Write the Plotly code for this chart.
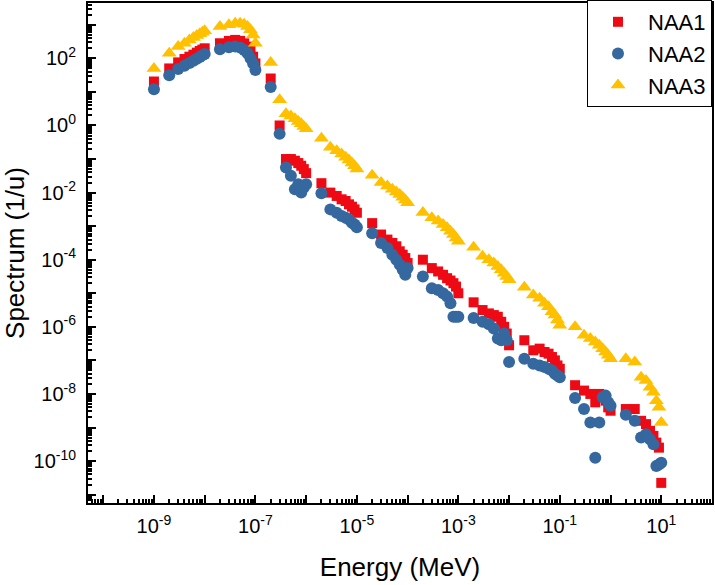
import numpy as np
import plotly.graph_objects as go

# Energy grid (MeV)
energy = [
    1e-9, 2e-9, 3e-9, 4e-9, 5e-9, 6e-9, 7e-9, 8e-9, 9e-9,
    1e-8, 2e-8, 3e-8, 4e-8, 5e-8, 6e-8, 7e-8, 8e-8, 9e-8,
    1e-7, 2e-7, 3e-7, 4e-7, 5e-7, 6e-7, 7e-7, 8e-7, 9e-7,
    1e-6, 2e-6, 3e-6, 4e-6, 5e-6, 6e-6, 7e-6, 8e-6, 9e-6,
    1e-5, 2e-5, 3e-5, 4e-5, 5e-5, 6e-5, 7e-5, 8e-5, 9e-5,
    1e-4, 2e-4, 3e-4, 4e-4, 5e-4, 6e-4, 7e-4, 8e-4, 9e-4,
    1e-3, 2e-3, 3e-3, 4e-3, 5e-3, 6e-3, 7e-3, 8e-3, 9e-3,
    1e-2, 2e-2, 3e-2, 4e-2, 5e-2, 6e-2, 7e-2, 8e-2, 9e-2,
    1e-1, 2e-1, 3e-1, 4e-1, 5e-1, 6e-1, 7e-1, 8e-1, 9e-1,
    1.0, 2.0, 3.0, 4.0, 5.0, 6.0, 7.0, 8.0, 9.0,
    10.0,
]

# Spectrum values, given as log10 of the value
naa1_log10 = [
    1.31, 1.70, 1.88, 1.98, 2.05, 2.11, 2.17, 2.22, 2.26,
    2.30, 2.45, 2.52, 2.55, 2.52, 2.45, 2.35, 2.22, 2.05,
    1.85, 1.40, 0.00, -1.00, -1.00, -1.05, -1.12, -1.20, -1.30,
    -1.42, -1.72, -2.00, -2.10, -2.20, -2.25, -2.35, -2.42, -2.50,
    -2.60, -2.91, -3.25, -3.40, -3.50, -3.60, -3.75, -3.85, -3.95,
    -4.10, -4.00, -4.25, -4.35, -4.45, -4.55, -4.62, -4.70, -4.80,
    -5.00, -5.27, -5.50, -5.60, -5.65, -5.70, -5.85, -6.00, -6.20,
    -6.55, -6.40, -6.70, -6.65, -6.75, -6.80, -6.90, -7.00, -7.15,
    -7.25, -7.74, -7.90, -8.00, -8.25, -8.00, -8.05, -8.20, -8.40,
    -8.50, -8.45, -8.45, -8.80, -8.90, -9.10, -9.25, -9.45, -9.60,
    -10.65,
]
naa2_log10 = [
    1.08, 1.50, 1.68, 1.78, 1.86, 1.93, 1.99, 2.04, 2.09,
    2.13, 2.27, 2.33, 2.35, 2.32, 2.25, 2.15, 2.00, 1.85,
    1.65, 1.15, -0.25, -1.25, -1.50, -1.90, -1.75, -2.00, -1.85,
    -1.75, -2.02, -2.50, -2.60, -2.70, -2.75, -2.80, -2.90, -2.95,
    -3.03, -3.21, -3.50, -3.65, -3.85, -4.00, -4.15, -4.30, -4.45,
    -4.25, -4.50, -4.85, -4.90, -5.00, -5.10, -5.30, -5.70, -5.70,
    -5.70, -5.74, -5.85, -5.92, -6.05, -6.35, -6.40, -6.20, -6.40,
    -7.05, -6.95, -7.10, -7.15, -7.20, -7.25, -7.30, -7.40, -7.45,
    -7.50, -8.12, -8.45, -8.85, -9.90, -8.85, -8.10, -8.05, -8.25,
    -8.35, -8.62, -8.80, -9.30, -9.20, -9.35, -9.50, -10.15, -10.10,
    -10.05,
]
naa3_log10 = [
    1.70, 2.15, 2.35, 2.45, 2.55, 2.62, 2.68, 2.73, 2.78,
    2.82, 2.95, 3.00, 3.05, 3.05, 3.02, 2.95, 2.85, 2.70,
    2.45, 1.88, 0.77, 0.35, 0.28, 0.20, 0.12, 0.05, -0.03,
    -0.10, -0.38, -0.65, -0.75, -0.85, -0.95, -1.03, -1.12, -1.20,
    -1.30, -1.48, -1.70, -1.80, -1.90, -1.98, -2.06, -2.14, -2.22,
    -2.30, -2.59, -2.75, -2.85, -2.95, -3.05, -3.15, -3.25, -3.35,
    -3.45, -3.63, -3.90, -4.00, -4.10, -4.20, -4.30, -4.40, -4.50,
    -4.60, -4.82, -5.05, -5.15, -5.30, -5.40, -5.55, -5.65, -5.80,
    -5.95, -6.00, -6.25, -6.35, -6.45, -6.55, -6.65, -6.75, -6.85,
    -6.95, -6.95, -7.05, -7.50, -7.60, -7.80, -7.95, -8.20, -8.40,
    -8.85,
]

series_names = ["NAA1", "NAA2", "NAA3"]
series_colors = ["#EE0A14", "#35689E", "#FFC000"]
series_symbols = ["square", "circle", "triangle-up"]
series_sizes = [10, 12, 13]

x_label_exponents = [-9, -7, -5, -3, -1, 1]
x_plain_exponents = [-10, -8, -6, -4, -2, 0]
y_label_exponents = [2, 0, -2, -4, -6, -8, -10]
y_plain_exponents = [3, 1, -1, -3, -5, -7, -9, -11]

X_RANGE = [-10.3, 2.0]
Y_RANGE = [-11.25, 3.65]
FONT = "Liberation Sans, Arial, sans-serif"

fig = go.Figure()
for name, logs, color, symbol, size in zip(series_names,
                                           [naa1_log10, naa2_log10, naa3_log10],
                                           series_colors, series_symbols, series_sizes):
    fig.add_trace(go.Scatter(
        x=energy, y=np.power(10.0, np.array(logs)),
        mode="markers", name=name,
        marker=dict(symbol=symbol, color=color, size=size, line=dict(width=0)),
    ))

# empty helper trace so the overlay tick axes are laid out
fig.add_trace(go.Scatter(x=[], y=[], xaxis="x2", yaxis="y2", mode="markers",
                         showlegend=False, hoverinfo="skip"))

minor_x = [m * 10.0 ** k for k in range(-11, 3) for m in range(2, 10)]
minor_y = [m * 10.0 ** k for k in range(-12, 5) for m in range(2, 10)]

axis_common = dict(
    type="log", showline=True, linecolor="black", linewidth=2, mirror=True,
    ticks="inside", ticklen=8, tickwidth=2, tickcolor="black",
    tickmode="array", showgrid=False, zeroline=False,
    tickfont=dict(family=FONT, size=20, color="black"),
)
minor_common = dict(tickmode="array", ticks="inside", ticklen=4,
                    tickwidth=1.5, tickcolor="black", showgrid=False)

fig.update_layout(
    xaxis=dict(
        **axis_common, range=X_RANGE,
        tickvals=[10.0 ** k for k in x_label_exponents],
        ticktext=[f"10<sup>{k}</sup>" for k in x_label_exponents],
        ticklabelstandoff=4,
        minor=dict(**minor_common, tickvals=minor_x),
        title=dict(text="Energy (MeV)", font=dict(family=FONT, size=26, color="black"),
                   standoff=22),
    ),
    yaxis=dict(
        **axis_common, range=Y_RANGE,
        tickvals=[10.0 ** k for k in y_label_exponents],
        ticktext=[f"10<sup>{k}</sup>" for k in y_label_exponents],
        ticklabelstandoff=6,
        minor=dict(**minor_common, tickvals=minor_y),
        title=dict(text="Spectrum (1/u)", font=dict(family=FONT, size=26, color="black"),
                   standoff=8),
    ),
    # overlay axes carrying the unlabelled decade ticks
    xaxis2=dict(type="log", overlaying="x", side="bottom", range=X_RANGE,
                tickmode="array", tickvals=[10.0 ** k for k in x_plain_exponents],
                ticks="inside", ticklen=8, tickwidth=2, tickcolor="black",
                showticklabels=False, showline=False, showgrid=False, zeroline=False),
    yaxis2=dict(type="log", overlaying="y", side="left", range=Y_RANGE,
                tickmode="array", tickvals=[10.0 ** k for k in y_plain_exponents],
                ticks="inside", ticklen=8, tickwidth=2, tickcolor="black",
                showticklabels=False, showline=False, showgrid=False, zeroline=False),
    width=715, height=585,
    margin=dict(l=88, r=3, t=3, b=82, autoexpand=False),
    plot_bgcolor="white", paper_bgcolor="white",
    font=dict(family=FONT, color="black"),
    legend=dict(x=1, xanchor="right", y=1.006, yanchor="top",
                bgcolor="white", bordercolor="black", borderwidth=1,
                font=dict(family=FONT, size=22, color="black"),
                itemwidth=50, tracegroupgap=0),
    showlegend=True,
)

fig.write_html("out.html", config={"displayModeBar": False},
               post_script="document.body.style.margin='0';document.body.style.overflow='hidden';")
